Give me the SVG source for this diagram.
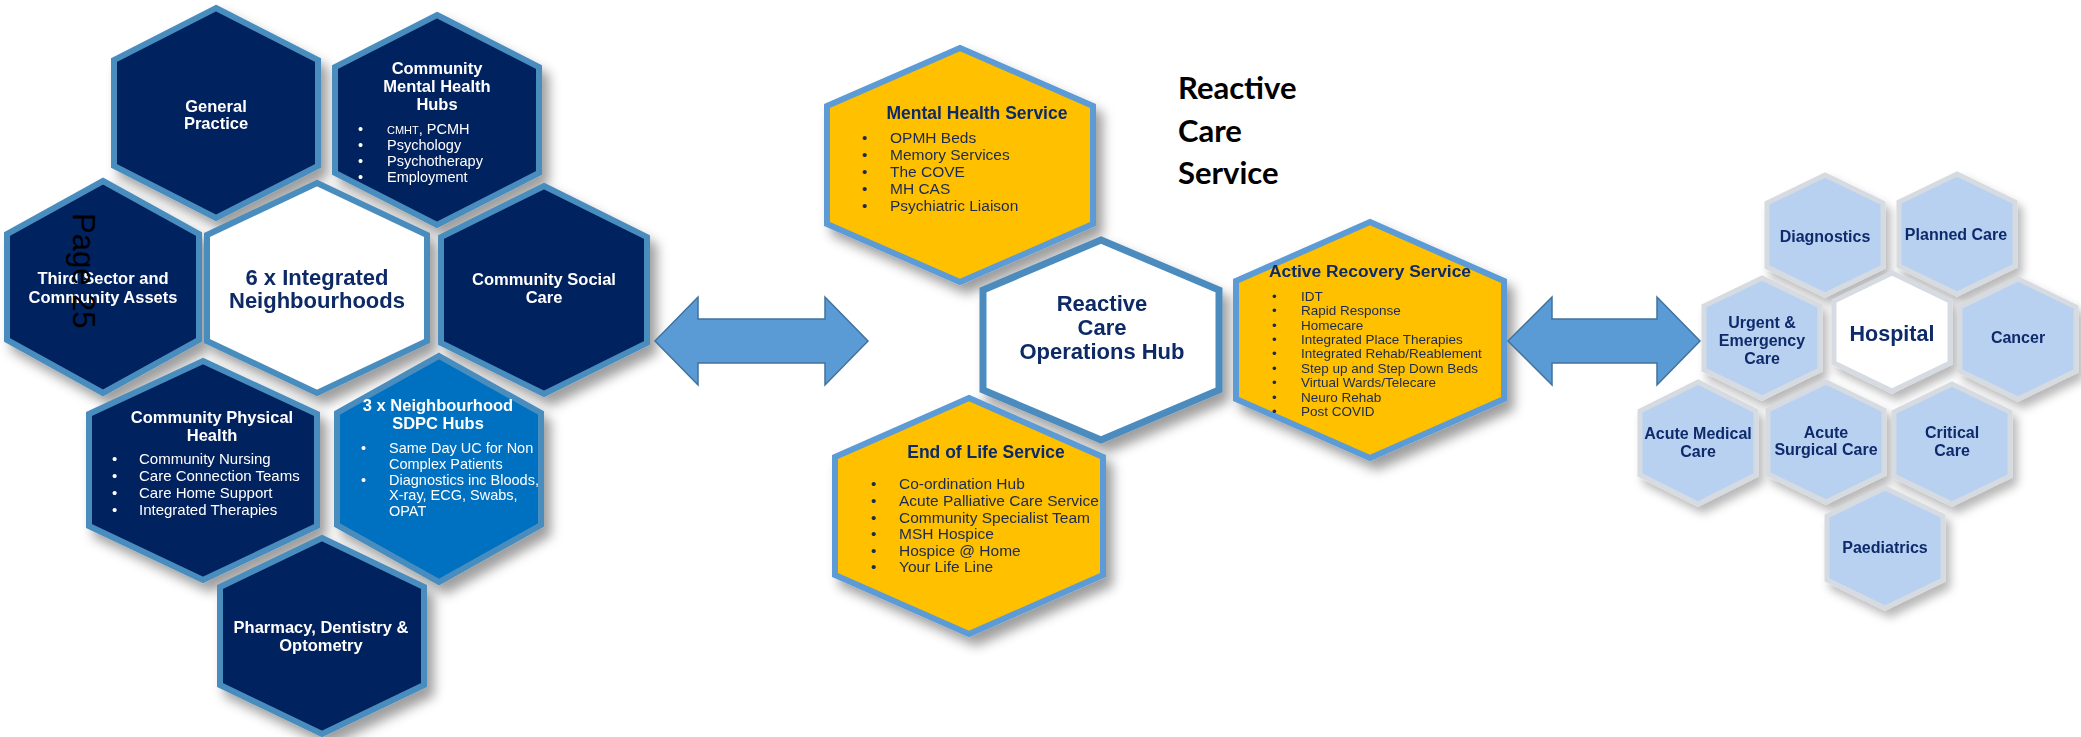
<svg xmlns="http://www.w3.org/2000/svg" width="2081" height="737" viewBox="0 0 2081 737">
  <style>
    .nb { fill: #03215E; stroke: #4A8DBF; stroke-width: 6; stroke-linejoin: miter; }
    .sd { fill: #0070C0; stroke: #4A8DBF; stroke-width: 6; }
    .wh { fill: #FFFFFF; stroke: #4A8DBF; stroke-width: 6; }
    .yl { fill: #FFC000; stroke: #5B9BD5; stroke-width: 6; }
    .hub { fill: #FFFFFF; stroke: #4B8BBE; stroke-width: 7; }
    .lb { fill: #B9D1F1; stroke: #D6DAE1; stroke-width: 5; }
    .lw { fill: #FFFFFF; stroke: #D6DAE1; stroke-width: 5; }
    text { font-family: "Liberation Sans", Arial, sans-serif; }
    .tw { fill: #FFFFFF; font-weight: bold; font-size: 16.5px; text-anchor: middle; }
    .iw { fill: #FFFFFF; font-size: 14.5px; }
    .iw15 { fill: #FFFFFF; font-size: 15px; }
    .tn { fill: #0D2A66; font-weight: bold; text-anchor: middle; }
    .iy { fill: #1A2A52; font-size: 15.5px; }
    .ia { fill: #1A2A52; font-size: 13.5px; }
    .hr { fill: #0F2A6B; font-weight: bold; font-size: 16px; text-anchor: middle; }
    .hr-big { fill: #0F2A6B; font-weight: bold; font-size: 21.5px; text-anchor: middle; }
    .title { font-family: Lato, "Open Sans", sans-serif; font-weight: bold; font-size: 31px; fill: #000000; }
    .arrow { fill: #5B9BD5; stroke: #41719C; stroke-width: 1.5; }
  </style>
  <defs>
    <filter id="shadow" x="-20%" y="-20%" width="150%" height="150%">
      <feDropShadow dx="7" dy="9" stdDeviation="6" flood-color="#000000" flood-opacity="0.38"/>
    </filter>
    <filter id="shadowSoft" x="-20%" y="-20%" width="150%" height="150%">
      <feDropShadow dx="5" dy="7" stdDeviation="5" flood-color="#000000" flood-opacity="0.28"/>
    </filter>
  </defs>
  <rect width="2081" height="737" fill="#FFFFFF"/>

  <!-- Left cluster: integrated neighbourhoods -->
  <g id="general-practice" filter="url(#shadow)">
    <polygon class="nb" points="216,8 318,60 318,166 216,218 114,166 114,60"/>
    <text class="tw" x="216" y="112">General</text>
    <text class="tw" x="216" y="129">Practice</text>
  </g>
  <g id="community-mental-health-hubs" filter="url(#shadow)">
    <polygon class="nb" points="437,15 539,67 539,173 437,225 335,173 335,67"/>
    <text class="tw" x="437" y="74">Community</text>
    <text class="tw" x="437" y="92">Mental Health</text>
    <text class="tw" x="437" y="110">Hubs</text>
    <text class="iw"><tspan x="358" y="134">•</tspan><tspan x="387" y="134" style="font-size:11px">CMHT</tspan><tspan>, PCMH</tspan></text>
    <text class="iw"><tspan x="358" y="150">•</tspan><tspan x="387" y="150">Psychology</tspan></text>
    <text class="iw"><tspan x="358" y="166">•</tspan><tspan x="387" y="166">Psychotherapy</tspan></text>
    <text class="iw"><tspan x="358" y="182">•</tspan><tspan x="387" y="182">Employment</tspan></text>
  </g>
  <g id="third-sector" filter="url(#shadow)">
    <polygon class="nb" points="103,181 199,234 199,340 103,393 7,340 7,234"/>
    <text class="tw" x="103" y="284">Third Sector and</text>
    <text class="tw" x="103" y="303">Community Assets</text>
  </g>
  <g id="integrated-neighbourhoods" filter="url(#shadow)">
    <polygon class="wh" points="317,183 427,235 427,341 317,393 207,341 207,235"/>
    <text class="tn" x="317" y="285" font-size="22px">6 x Integrated</text>
    <text class="tn" x="317" y="308" font-size="22px">Neighbourhoods</text>
  </g>
  <g id="community-social-care" filter="url(#shadow)">
    <polygon class="nb" points="544,186 647,237 647,343 544,394 441,343 441,237"/>
    <text class="tw" x="544" y="285">Community Social</text>
    <text class="tw" x="544" y="303">Care</text>
  </g>
  <g id="community-physical-health" filter="url(#shadow)">
    <polygon class="nb" points="203,361 317,414 317,526 203,580 89,526 89,414"/>
    <text class="tw" x="212" y="423">Community Physical</text>
    <text class="tw" x="212" y="441">Health</text>
    <text class="iw15"><tspan x="112" y="464">•</tspan><tspan x="139" y="464">Community Nursing</tspan></text>
    <text class="iw15"><tspan x="112" y="481">•</tspan><tspan x="139" y="481">Care Connection Teams</tspan></text>
    <text class="iw15"><tspan x="112" y="498">•</tspan><tspan x="139" y="498">Care Home Support</tspan></text>
    <text class="iw15"><tspan x="112" y="515">•</tspan><tspan x="139" y="515">Integrated Therapies</tspan></text>
  </g>
  <g id="sdpc-hubs" filter="url(#shadow)">
    <polygon class="sd" points="439,356 541,413 541,525 439,582 337,525 337,413"/>
    <text class="tw" x="438" y="411">3 x Neighbourhood</text>
    <text class="tw" x="438" y="429">SDPC Hubs</text>
    <text class="iw"><tspan x="361" y="453">•</tspan><tspan x="389" y="453">Same Day UC for Non</tspan></text>
    <text class="iw"><tspan x="389" y="469">Complex Patients</tspan></text>
    <text class="iw"><tspan x="361" y="485">•</tspan><tspan x="389" y="485">Diagnostics inc Bloods,</tspan></text>
    <text class="iw"><tspan x="389" y="500">X-ray, ECG, Swabs,</tspan></text>
    <text class="iw"><tspan x="389" y="516">OPAT</tspan></text>
  </g>
  <g id="pharmacy" filter="url(#shadow)">
    <polygon class="nb" points="322,538 424,587 424,685 322,734 220,685 220,587"/>
    <text class="tw" x="321" y="633">Pharmacy, Dentistry &amp;</text>
    <text class="tw" x="321" y="651">Optometry</text>
  </g>

  <!-- Page number stamp -->
  <text x="0" y="0" transform="translate(73,213) rotate(90)" style="font-size:31px" fill="#000000">Page 25</text>

  <!-- Middle cluster: reactive care service -->
  <g id="mental-health-service" filter="url(#shadow)">
    <polygon class="yl" points="960,48 1093,106 1093,224 960,282 827,224 827,106"/>
    <text class="tn" x="977" y="119" font-size="17.5px">Mental Health Service</text>
    <text class="iy"><tspan x="862" y="143">•</tspan><tspan x="890" y="143">OPMH Beds</tspan></text>
    <text class="iy"><tspan x="862" y="160">•</tspan><tspan x="890" y="160">Memory Services</tspan></text>
    <text class="iy"><tspan x="862" y="177">•</tspan><tspan x="890" y="177">The COVE</tspan></text>
    <text class="iy"><tspan x="862" y="194">•</tspan><tspan x="890" y="194">MH CAS</tspan></text>
    <text class="iy"><tspan x="862" y="211">•</tspan><tspan x="890" y="211">Psychiatric Liaison</tspan></text>
  </g>
  <g id="operations-hub" filter="url(#shadow)">
    <polygon class="hub" points="1101,240 1219,290 1219,390 1101,440 983,390 983,290"/>
    <text class="tn" x="1102" y="311" font-size="22px">Reactive</text>
    <text class="tn" x="1102" y="335" font-size="22px">Care</text>
    <text class="tn" x="1102" y="359" font-size="22px">Operations Hub</text>
  </g>
  <g id="end-of-life-service" filter="url(#shadow)">
    <polygon class="yl" points="969,398 1103,457 1103,575 969,634 835,575 835,457"/>
    <text class="tn" x="986" y="458" font-size="17.5px">End of Life Service</text>
    <text class="iy"><tspan x="871" y="489">•</tspan><tspan x="899" y="489">Co-ordination Hub</tspan></text>
    <text class="iy"><tspan x="871" y="506">•</tspan><tspan x="899" y="506">Acute Palliative Care Service</tspan></text>
    <text class="iy"><tspan x="871" y="523">•</tspan><tspan x="899" y="523">Community Specialist Team</tspan></text>
    <text class="iy"><tspan x="871" y="539">•</tspan><tspan x="899" y="539">MSH Hospice</tspan></text>
    <text class="iy"><tspan x="871" y="556">•</tspan><tspan x="899" y="556">Hospice @ Home</tspan></text>
    <text class="iy"><tspan x="871" y="572">•</tspan><tspan x="899" y="572">Your Life Line</tspan></text>
  </g>
  <g id="active-recovery-service" filter="url(#shadow)">
    <polygon class="yl" points="1370,222 1504,281 1504,399 1370,458 1236,399 1236,281"/>
    <text class="tn" x="1370" y="277" font-size="17.4px">Active Recovery Service</text>
    <text class="ia"><tspan x="1272" y="301">•</tspan><tspan x="1301" y="301">IDT</tspan></text>
    <text class="ia"><tspan x="1272" y="315">•</tspan><tspan x="1301" y="315">Rapid Response</tspan></text>
    <text class="ia"><tspan x="1272" y="330">•</tspan><tspan x="1301" y="330">Homecare</tspan></text>
    <text class="ia"><tspan x="1272" y="344">•</tspan><tspan x="1301" y="344">Integrated Place Therapies</tspan></text>
    <text class="ia"><tspan x="1272" y="358">•</tspan><tspan x="1301" y="358">Integrated Rehab/Reablement</tspan></text>
    <text class="ia"><tspan x="1272" y="373">•</tspan><tspan x="1301" y="373">Step up and Step Down Beds</tspan></text>
    <text class="ia"><tspan x="1272" y="387">•</tspan><tspan x="1301" y="387">Virtual Wards/Telecare</tspan></text>
    <text class="ia"><tspan x="1272" y="402">•</tspan><tspan x="1301" y="402">Neuro Rehab</tspan></text>
    <text class="ia"><tspan x="1272" y="416">•</tspan><tspan x="1301" y="416">Post COVID</tspan></text>
  </g>

  <!-- Heading -->
  <g id="reactive-care-service-title">
    <text class="title" x="1178" y="99">Reactive</text>
    <text class="title" x="1178" y="142">Care</text>
    <text class="title" x="1178" y="184">Service</text>
  </g>

  <!-- Right cluster: hospital -->
  <g id="diagnostics" filter="url(#shadowSoft)">
    <polygon class="lb" points="1825,175 1883,203 1883,267 1825,295 1767,267 1767,203"/>
    <text class="hr" x="1825" y="242">Diagnostics</text>
  </g>
  <g id="planned-care" filter="url(#shadowSoft)">
    <polygon class="lb" points="1957,174 2015,202 2015,266 1957,294 1899,266 1899,202"/>
    <text class="hr" x="1956" y="240">Planned Care</text>
  </g>
  <g id="urgent-emergency-care" filter="url(#shadowSoft)">
    <polygon class="lb" points="1762,278 1820,306 1820,370 1762,398 1704,370 1704,306"/>
    <text class="hr" x="1762" y="328">Urgent &amp;</text>
    <text class="hr" x="1762" y="346">Emergency</text>
    <text class="hr" x="1762" y="364">Care</text>
  </g>
  <g id="hospital" filter="url(#shadowSoft)">
    <polygon class="lw" points="1892,273 1950,301 1950,363 1892,391 1834,363 1834,301"/>
    <text class="hr-big" x="1892" y="341">Hospital</text>
  </g>
  <g id="cancer" filter="url(#shadowSoft)">
    <polygon class="lb" points="2018,279 2076,307 2076,371 2018,399 1960,371 1960,307"/>
    <text class="hr" x="2018" y="343">Cancer</text>
  </g>
  <g id="acute-medical-care" filter="url(#shadowSoft)">
    <polygon class="lb" points="1698,382 1756,411 1756,475 1698,504 1640,475 1640,411"/>
    <text class="hr" x="1698" y="439">Acute Medical</text>
    <text class="hr" x="1698" y="457">Care</text>
  </g>
  <g id="acute-surgical-care" filter="url(#shadowSoft)">
    <polygon class="lb" points="1826,382 1884,410 1884,474 1826,502 1768,474 1768,410"/>
    <text class="hr" x="1826" y="438">Acute</text>
    <text class="hr" x="1826" y="455">Surgical Care</text>
  </g>
  <g id="critical-care" filter="url(#shadowSoft)">
    <polygon class="lb" points="1952,384 2010,412 2010,476 1952,504 1894,476 1894,412"/>
    <text class="hr" x="1952" y="438">Critical</text>
    <text class="hr" x="1952" y="456">Care</text>
  </g>
  <g id="paediatrics" filter="url(#shadowSoft)">
    <polygon class="lb" points="1885,488 1943,516 1943,580 1885,608 1827,580 1827,516"/>
    <text class="hr" x="1885" y="553">Paediatrics</text>
  </g>

  <!-- Connectors: two-way block arrows -->
  <g id="connectors">
    <path class="arrow" d="M655,341 L698,297 L698,319 L825,319 L825,297 L868,341 L825,385 L825,363 L698,363 L698,385 Z"/>
    <path class="arrow" d="M1508,341 L1552,297 L1552,319 L1657,319 L1657,297 L1700,341 L1657,385 L1657,363 L1552,363 L1552,385 Z"/>
  </g>
</svg>
